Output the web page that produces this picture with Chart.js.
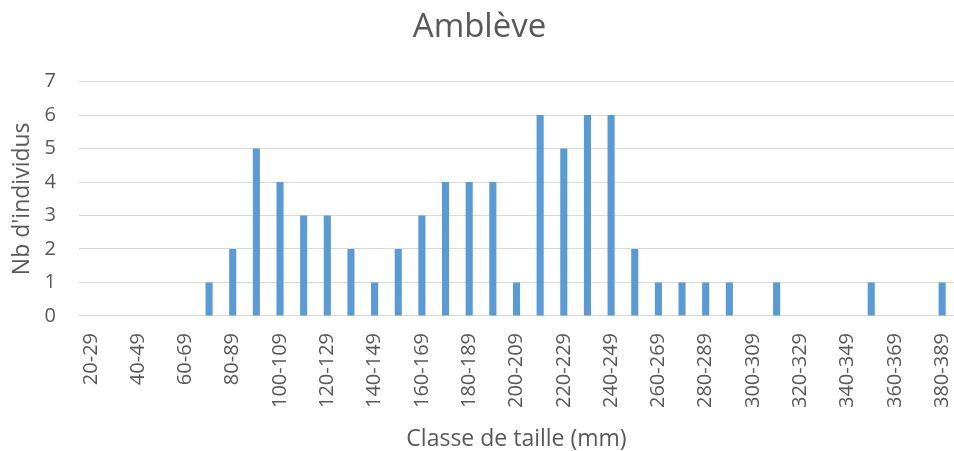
<!DOCTYPE html>
<html>
<head>
<meta charset="utf-8">
<script src="https://cdn.jsdelivr.net/npm/chart.js@4"></script>
<style>
  html, body { margin: 0; padding: 0; background: #fff; overflow: hidden; }
  #wrap { width: 954px; height: 451px; }
</style>
</head>
<body>
<div id="wrap"><canvas id="graphique"></canvas></div>
<script>
// classes de taille (mm)
const classes = [
  '20-29', '30-39', '40-49', '50-59', '60-69', '70-79', '80-89', '90-99',
  '100-109', '110-119', '120-129', '130-139', '140-149', '150-159', '160-169',
  '170-179', '180-189', '190-199', '200-209', '210-219', '220-229', '230-239',
  '240-249', '250-259', '260-269', '270-279', '280-289', '290-299', '300-309',
  '310-319', '320-329', '330-339', '340-349', '350-359', '360-369', '370-379',
  '380-389'
];
const effectifs = [
  0, 0, 0, 0, 0, 1, 2, 5,
  4, 3, 3, 2, 1, 2, 3,
  4, 4, 4, 1, 6, 5, 6,
  6, 2, 1, 1, 1, 1, 0,
  1, 0, 0, 0, 1, 0, 0,
  1
];
const graduationsY = [0, 1, 2, 3, 4, 5, 6, 7];

const police = "'Open Sans', 'Liberation Sans', sans-serif";
const gris = '#595959';

new Chart(document.getElementById('graphique'), {
  type: 'bar',
  data: {
    labels: classes,
    datasets: [{
      label: 'Amblève',
      data: effectifs,
      backgroundColor: '#5b9bd5',
      barPercentage: 0.6,
      categoryPercentage: 0.5
    }]
  },
  options: {
    responsive: true,
    maintainAspectRatio: false,
    animation: false,
    layout: { padding: { left: 5, right: 0, top: 0, bottom: 0 } },
    plugins: {
      legend: { display: false },
      tooltip: { enabled: false },
      title: {
        display: true,
        text: 'Amblève',
        color: gris,
        font: { family: police, size: 33, weight: 'normal' },
        padding: { top: 8, bottom: 34 }
      }
    },
    scales: {
      x: {
        grid: { display: false },
        border: { color: '#d9d9d9' },
        // pas de marge en plus pour les étiquettes tournées
        afterFit: (axe) => { axe.paddingLeft = 0; axe.paddingRight = 0; },
        ticks: {
          autoSkip: false,
          maxRotation: 90,
          minRotation: 90,
          color: gris,
          font: { family: police, size: 20 },
          padding: 9,
          callback: (v, i) => (i % 2 === 0 ? classes[i] : '')
        },
        title: {
          display: true,
          text: 'Classe de taille (mm)',
          color: gris,
          font: { family: police, size: 23, lineHeight: 1 },
          padding: { top: 11, bottom: 0 }
        }
      },
      y: {
        min: 0,
        max: graduationsY[graduationsY.length - 1],
        afterBuildTicks: (axe) => { axe.ticks = graduationsY.map(v => ({ value: v })); },
        afterFit: (axe) => { axe.width = 74; },
        grid: { color: '#d9d9d9', drawTicks: false },
        border: { display: false },
        ticks: {
          color: gris,
          font: { family: police, size: 20 },
          padding: 23
        },
        title: {
          display: true,
          text: "Nb d'individus",
          color: gris,
          font: { family: police, size: 23 },
          padding: { top: 4, bottom: 7 }
        }
      }
    }
  }
});
</script>
</body>
</html>
